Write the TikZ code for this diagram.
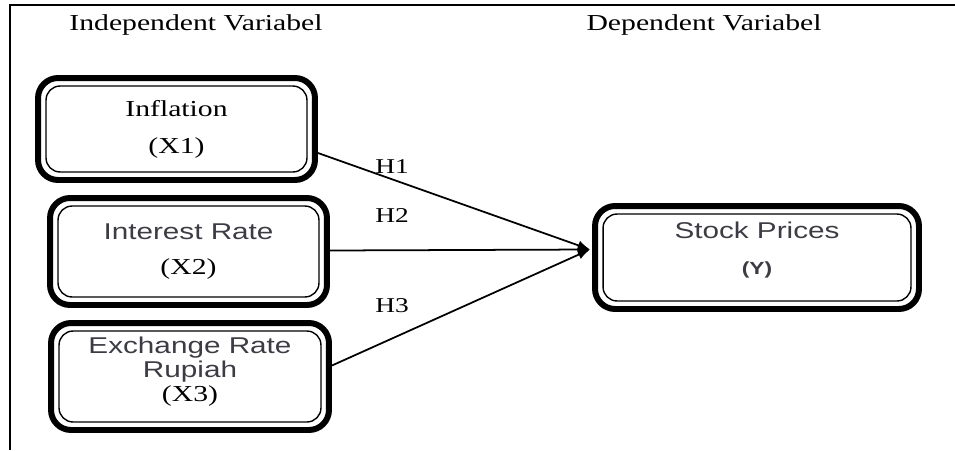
\documentclass[tikz,border=0pt]{standalone}
\usepackage{fontspec}
\setmainfont{Liberation Serif}[FakeStretch=1.3]
\setsansfont{Liberation Sans}[FakeStretch=1.3]
\usetikzlibrary{arrows.meta}
\definecolor{sanstext}{HTML}{3C3C44}
\begin{document}
\begin{tikzpicture}[x=0.02cm,y=-0.02cm,
	varbox/.style={draw,line width=3.4pt,rounded corners=0.4cm,align=center,inner sep=0pt,font=\fontsize{13}{15}\selectfont},
	hyp/.style={font=\fontsize{12}{14}\selectfont},
	arw/.style={line width=1pt,-{Latex[length=7pt,width=5.5pt]}}]
	\def\sans#1{{\sffamily\color{sanstext}#1}}
	\useasboundingbox (0,0) rectangle (955,450);
	\draw[line width=1.1pt] (955,5) -- (10,5) -- (10,450);
	\node[font=\fontsize{13}{15}\selectfont] (indep) at (196,25) {Independent Variabel};
	\node[font=\fontsize{13}{15}\selectfont] (dep) at (704,25) {Dependent Variabel};
	\node[varbox,minimum width=5.54cm,minimum height=2.04cm] (inf) at (176.5,129) {Inflation\\[6pt](X1)};
	\node[varbox,minimum width=5.54cm,minimum height=2.14cm] (int) at (188.5,251.5) {\sans{Interest Rate}\\[5pt](X2)};
	\node[varbox,minimum width=5.56cm,minimum height=2.14cm,text depth=8.3pt,font=\fontsize{13}{13.5}\selectfont] (exc) at (190,376.5) {\sans{Exchange Rate}\\\sans{Rupiah}\\(X3)};
	\node[varbox,minimum width=6.48cm,minimum height=2.06cm,text depth=10.6pt] (stk) at (757,257.5) {\sans{Stock Prices}\\[6pt]\sans{\fontsize{10}{12}\selectfont\bfseries (Y)}};
	% inner thin border
	\foreach \n in {inf,int,exc,stk} {\draw[line width=0.8pt,rounded corners=0.28cm] ([shift={(11,11)}]\n.north west) rectangle ([shift={(-11,-11)}]\n.south east);}
	\coordinate (hit) at ([shift={(-2,-8)}]stk.west);
	\draw[arw] ([shift={(0,24)}]inf.east) -- (hit);
	\draw[arw] ([shift={(0,-1)}]int.east) -- (hit);
	\draw[arw] ([shift={(0,-11)}]exc.east) -- (hit);
	\node[hyp] (h1) at (392,167) {H1};
	\node[hyp] (h2) at (392,216) {H2};
	\node[hyp] (h3) at (392,306) {H3};
\end{tikzpicture}
\end{document}
